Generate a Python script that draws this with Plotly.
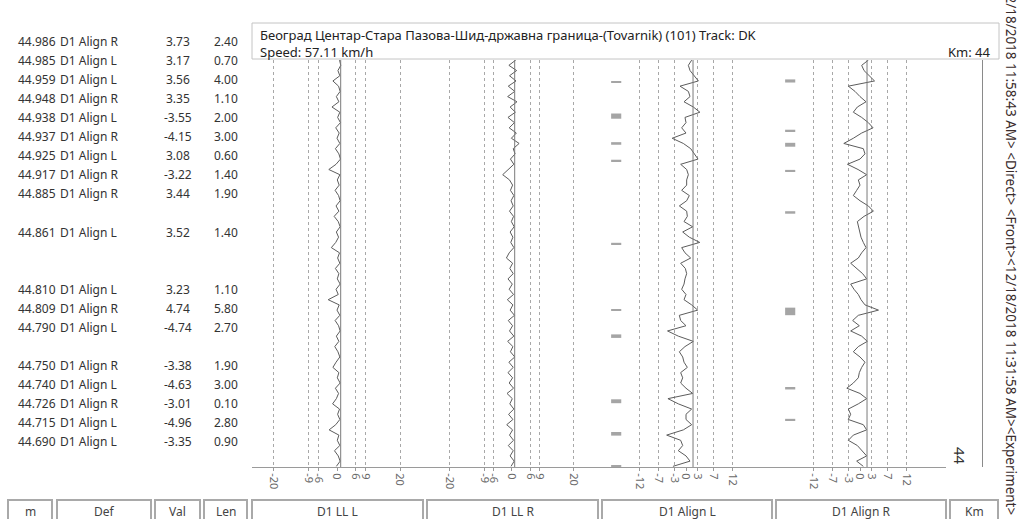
import plotly.graph_objects as go

W, H = 1019, 519

# ---- defect list (left table) ----
def_km = [44.986, 44.985, 44.959, 44.948, 44.938, 44.937, 44.925, 44.917, 44.885,
          44.861, 44.810, 44.809, 44.790, 44.750, 44.740, 44.726, 44.715, 44.690]
def_name = ["D1 Align R", "D1 Align L", "D1 Align L", "D1 Align R", "D1 Align L", "D1 Align R",
            "D1 Align L", "D1 Align R", "D1 Align R", "D1 Align L", "D1 Align L", "D1 Align R",
            "D1 Align L", "D1 Align R", "D1 Align L", "D1 Align R", "D1 Align L", "D1 Align L"]
def_val = [3.73, 3.17, 3.56, 3.35, -3.55, -4.15, 3.08, -3.22, 3.44,
           3.52, 3.23, 4.74, -4.74, -3.38, -4.63, -3.01, -4.96, -3.35]
def_len = [2.40, 0.70, 4.00, 1.10, 2.00, 3.00, 0.60, 1.40, 1.90,
           1.40, 1.10, 5.80, 2.70, 1.90, 3.00, 0.10, 2.80, 0.90]

# ---- measured signals, sampled along the km axis ----
km = [45.002, 44.998, 44.994, 44.990, 44.986, 44.982, 44.978, 44.974, 44.970, 44.966,
      44.962, 44.958, 44.954, 44.950, 44.946, 44.942, 44.938, 44.934, 44.930, 44.926,
      44.922, 44.918, 44.914, 44.910, 44.906, 44.902, 44.898, 44.894, 44.890, 44.886,
      44.882, 44.878, 44.874, 44.870, 44.866, 44.862, 44.858, 44.854, 44.850, 44.846,
      44.842, 44.838, 44.834, 44.830, 44.826, 44.822, 44.818, 44.814, 44.810, 44.806,
      44.802, 44.798, 44.794, 44.790, 44.786, 44.782, 44.778, 44.774, 44.770, 44.766,
      44.762, 44.758, 44.754, 44.750, 44.746, 44.742, 44.738, 44.734, 44.730, 44.726,
      44.722, 44.718, 44.714, 44.710, 44.706, 44.702, 44.698, 44.694, 44.690]

ll_left = [0.8, 1.2, 0.3, 0.9, -1.3, 0.5, 1.0, -0.2, 0.6, -1.6,
           0.9, 0.2, 1.1, -0.4, 0.7, 0.0, 0.9, -0.5, 0.6, 1.1,
           -0.3, -2.6, 0.9, 0.1, 0.7, -0.6, 0.5, 1.0, -0.3, 0.6,
           -0.9, 0.4, 1.0, -0.2, 0.5, -0.4, -1.8, 0.8, 0.2, 0.9,
           -0.5, 0.6, 0.1, 1.0, -0.3, 0.4, -2.8, 0.7, 0.0, 0.9,
           -0.6, 0.5, 1.0, -0.2, 0.6, -0.7, 0.3, 0.9, -0.3, -1.3,
           0.6, 0.1, 1.0, -0.5, 0.5, -0.2, -1.4, 0.8, 0.2, 0.9,
           -0.4, -2.5, 0.6, 0.1, 0.9, -0.8, 0.4, 1.0, -0.2]

ll_right = [1.2, -1.0, 1.5, -0.8, 1.3, -1.2, 0.9, -1.4, 1.6, -0.6,
            1.1, -1.3, 0.8, -0.9, 1.4, -0.2, 2.3, 0.4, 1.0, -0.5,
            0.6, -1.2, -3.0, -0.8, 0.2, -0.5, 0.6, -0.3, 0.4, -0.8,
            0.5, -0.2, 0.7, -0.6, 0.3, -0.4, 0.6, -0.9, -1.8, 0.2,
            -0.7, 0.4, -1.3, 0.1, -0.9, 0.5, -1.5, 0.3, -0.6, 0.8,
            -1.2, 0.2, -0.8, 0.6, -1.4, 0.3, -0.5, 0.9, -1.0, 0.4,
            -1.3, 0.2, -0.9, 0.5, -1.6, 0.1, -0.7, 0.6, -1.1, 0.3,
            -1.7, 0.2, -0.8, 0.5, -1.2, 0.4, -0.6, 0.7, -0.3]

align_left = [1.45, 0.60, 1.03, 2.05, 3.17, -1.54, 0.60, 1.03, -0.51, 1.88,
              3.56, -0.26, 0.00, -1.11, 0.00, -3.55, -0.68, 1.20, 2.05, 3.08,
              -1.37, 0.17, 0.60, 0.17, 0.17, -1.11, 0.85, 0.17, -1.71, 0.17,
              0.34, -0.51, 1.71, -0.85, 0.85, 3.52, -1.11, -0.26, 1.20, -1.37,
              -0.17, 0.17, -0.26, -0.51, -1.11, 0.00, -0.51, 1.45, 3.00, -1.71,
              -1.37, 0.00, -4.74, -1.97, 1.88, -0.26, -1.71, -0.85, -0.51, 0.34,
              -1.37, -0.85, -1.37, 0.00, 1.71, -4.63, -1.97, 1.45, 0.00, 0.00,
              1.45, -0.68, -4.96, -1.37, -0.85, -1.97, 0.00, 1.03, -3.35]

align_right = [2.14, 0.43, 1.03, 2.39, 3.73, -2.99, -1.28, 0.00, 1.54, -0.68,
               -1.71, 0.43, 2.14, 3.35, 0.43, -1.71, -4.15, 0.85, 1.28, 0.00,
               -3.22, -0.50, 1.71, -0.43, 0.00, -0.85, -1.71, 0.00, 2.14, 3.44,
               1.03, -0.68, -0.43, -0.17, 0.26, 0.85, 1.54, 0.43, -0.43, -2.39,
               -0.85, 0.68, 1.71, -2.39, -1.54, -0.43, 0.26, 1.28, 4.74, -0.43,
               -1.88, -0.17, -2.39, 0.43, 1.88, -0.43, -1.71, 0.00, 1.28, 0.43,
               -0.17, -0.43, -1.71, -3.38, 0.00, 1.71, -0.43, -2.99, -2.39, -3.01,
               0.85, 1.71, -1.71, -2.99, -0.68, 0.43, 1.71, -0.85, 0.85]

ll_ticks = [-20, -9, -6, 0, 6, 9, 20]
align_ticks = [-12, -7, -3, 0, 3, 7, 12]

columns = ["m", "Def", "Val", "Len", "D1 LL L", "D1 LL R", "D1 Align L", "D1 Align R", "Km"]

# ---- layout helpers (pixel -> paper) ----
def px(x):
    return x / W

def py(y):
    return 1 - y / H

Y_RANGE = [44.6895, 45.0021]
Y_DOM = [py(467), py(60)]
FONT = "Noto Sans"
TRACE_C = "#5c5c5c"
GRID_C = "#a8a8a8"

fig = go.Figure()

signals = [("x", ll_left), ("x2", ll_right), ("x3", align_left), ("x4", align_right)]
for xa, vals in signals:
    fig.add_trace(go.Scatter(x=vals, y=km, xaxis=xa, yaxis="y", mode="lines",
                             line=dict(color=TRACE_C, width=1), hoverinfo="skip",
                             showlegend=False))

# defect markers in the alignment columns
for xa, side in [("x3", "L"), ("x4", "R")]:
    sel = [i for i, n in enumerate(def_name) if n.endswith(side)]
    fig.add_trace(go.Bar(orientation="h", xaxis=xa, yaxis="y",
                         y=[def_km[i] for i in sel],
                         x=[2.6] * len(sel), base=-19.2,
                         width=[max(def_len[i], 1.0) / 1000 for i in sel],
                         marker=dict(color="#a5a5a5", line=dict(width=0)),
                         showlegend=False, hoverinfo="skip"))

# dummy traces so the km ruler axes are drawn
for ya in ["y2", "y3", "y4"]:
    fig.add_trace(go.Scatter(x=[None], y=[None], xaxis="x5", yaxis=ya, showlegend=False))

def x_axis(dom, rng, ticks):
    return dict(domain=[px(dom[0]), px(dom[1])], range=rng, anchor="y",
                showline=True, linecolor="#9a9a9a", linewidth=1,
                tickvals=ticks, ticktext=[str(t) for t in ticks], tickangle=90,
                ticks="outside", ticklen=3, tickcolor="#9a9a9a",
                tickfont=dict(family=FONT, size=11, color="#6a6a6a"),
                showgrid=False, zeroline=False, fixedrange=True,
                minor=dict(tickvals=[t for t in ticks if t != 0], showgrid=True,
                           gridcolor=GRID_C, griddash="dot", gridwidth=1))

fig.update_layout(
    width=W, height=H, margin=dict(l=0, r=0, t=0, b=0),
    paper_bgcolor="white", plot_bgcolor="white", barmode="overlay",
    font=dict(family=FONT, size=12, color="#333"),
    xaxis=x_axis((252, 426), [-26.98, 28.25], ll_ticks),
    xaxis2=x_axis((426, 600), [-27.74, 28.39], ll_ticks),
    xaxis3=x_axis((600, 774), [-22.05, 22.56], align_ticks),
    xaxis4=x_axis((774, 946), [-22.05, 22.05], align_ticks),
    xaxis5=dict(domain=[px(946), px(1000)], range=[0, 1], anchor="y", visible=False),
    yaxis=dict(domain=Y_DOM, range=Y_RANGE, showticklabels=False, showgrid=False,
               zeroline=False, showline=False, ticks=""),
    yaxis2=dict(overlaying="y", anchor="free", position=px(946), range=Y_RANGE,
                showline=True, linecolor="#707070", ticks="inside", ticklen=9,
                tickcolor="#707070", tickvals=[44.8, 44.9], ticktext=["8", "9"],
                tickangle=90, ticklabelposition="inside",
                tickfont=dict(family=FONT, size=9, color="#444"),
                minor=dict(dtick=0.01, tick0=44.7, ticks="inside", ticklen=9, tickcolor="#707070"),
                showgrid=False, zeroline=False),
    yaxis3=dict(overlaying="y", anchor="free", position=px(975), range=Y_RANGE,
                showline=True, linecolor="#8a8a8a", ticks="inside", ticklen=6,
                tickcolor="#9a9a9a", dtick=0.002, showticklabels=False,
                showgrid=False, zeroline=False),
    yaxis4=dict(overlaying="y", anchor="free", position=px(982), range=Y_RANGE,
                showline=True, linecolor="#8a8a8a", ticks="", showticklabels=False,
                showgrid=False, zeroline=False),
)

def note(x, y, text, xanchor="left", size=12, color="#333", angle=0, yanchor="middle"):
    fig.add_annotation(x=x, y=y, xref="paper", yref="paper", xanchor=xanchor,
                       yanchor=yanchor, showarrow=False, text=text, textangle=angle,
                       font=dict(size=size, color=color))

# solid reference lines of the four signal columns
for xa, ref in [("x", 1.17), ("x2", 0.87), ("x3", 1.8), ("x4", 1.8)]:
    fig.add_shape(type="line", xref=xa, yref="paper", x0=ref, x1=ref,
                  y0=Y_DOM[0], y1=Y_DOM[1], line=dict(color="#7a7a7a", width=1))

# header box
fig.add_shape(type="rect", xref="paper", yref="paper", x0=px(252), x1=px(999),
              y0=py(59), y1=py(23), line=dict(color="#c4c4c4", width=1))
note(px(258), py(35), "Београд Центар-Стара Пазова-Шид-државна граница-(Tovarnik) (101) Track: DK",
     size=13, color="#222")
note(px(258), py(52), "Speed: 57.11 km/h", size=13, color="#222")
note(px(993), py(52), "Km: 44", xanchor="right", size=13, color="#222")

# km label on the ruler
note(px(960), py(456), "44", xanchor="center", size=15, angle=90)

# column header boxes along the bottom
col_edges = [(8, 52), (57, 151), (155, 200), (204, 247), (252, 423),
             (427, 598), (602, 772), (776, 946), (950, 998)]
for name, (a, b) in zip(columns, col_edges):
    fig.add_shape(type="rect", xref="paper", yref="paper", x0=px(a), x1=px(b),
                  y0=py(525), y1=py(500), line=dict(color="#a9a9a9", width=2))
    note(px((a + b) / 2), py(511), name, xanchor="center", color="#444")

# defect table rows
row_slot = [0, 1, 2, 3, 4, 5, 6, 7, 8, 10, 13, 14, 15, 17, 18, 19, 20, 21]
for i, slot in enumerate(row_slot):
    yy = py(41.7 + 19.03 * slot)
    note(px(16), yy, f"{def_km[i]:.3f}")
    note(px(58), yy, def_name[i])
    note(px(178), yy, f"{def_val[i]:.2f}", xanchor="center")
    note(px(226), yy, f"{def_len[i]:.2f}", xanchor="center")

# vertical status text on the right edge
note(px(1011), 1 + 22 / H, "&lt;12/18/2018 11:58:43 AM&gt; &lt;Direct&gt; &lt;Front&gt;"
     "&lt;12/18/2018 11:31:58 AM&gt;&lt;Experiment&gt; P:2",
     xanchor="center", yanchor="top", size=13.5, color="#3a2c2c", angle=90)

fig.write_html("out.html", config={"displayModeBar": False},
               post_script="document.body.style.margin='0';"
               "document.body.style.overflow='hidden';")
